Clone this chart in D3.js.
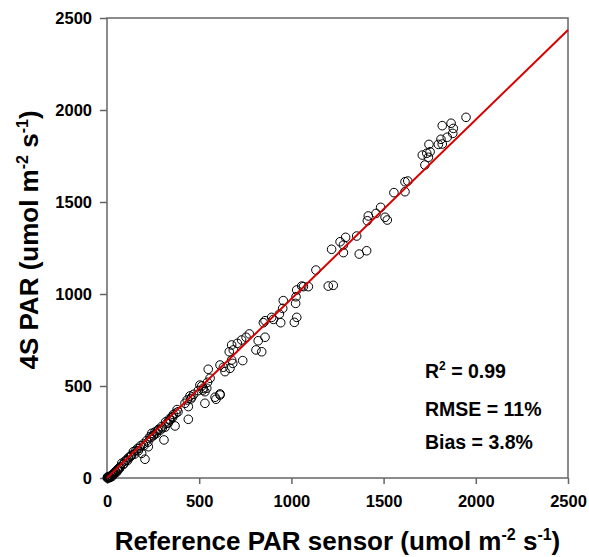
<!DOCTYPE html>
<html>
<head>
<meta charset="utf-8">
<script src="https://cdn.jsdelivr.net/npm/d3@7"></script>
<style>
  body { margin: 0; background: #fff; }
  text { font-family: Arial, "Liberation Sans", sans-serif; font-weight: bold; }
</style>
</head>
<body>
<div id="chart"></div>
<script>
// reference sensor PAR (x) and 4S PAR (y), umol m-2 s-1
var refPar = [
  2, 4, 6, 8, 10, 12, 15, 18, 20, 25, 28, 32, 36, 40, 45, 50, 55, 61, 66, 72, 80, 88, 98, 106, 116, 125, 134, 143,
  157, 165, 175, 188, 197, 206, 215, 224, 233, 243, 251, 260, 269, 280, 290, 297, 309, 315, 324, 333, 342, 352,
  360, 369, 374, 385, 423, 435, 441, 441, 450, 460, 495, 504, 514, 522, 531, 531, 541, 549, 559, 586, 591, 613,
  613, 613, 631, 640, 663, 667, 676, 676, 682, 685, 707, 730, 736, 754, 772, 808, 820, 839, 848, 857, 857, 893,
  902, 935, 942, 953, 956, 1016, 1023, 1025, 1029, 1029, 1056, 1065, 1092, 1133, 1200, 1218, 1227, 1264, 1282,
  1282, 1294, 1354, 1368, 1408, 1412, 1417, 1459, 1484, 1508, 1520, 1556, 1616, 1616, 1631, 1710, 1724, 1734,
  1743, 1746, 1752, 1797, 1811, 1818, 1818, 1845, 1866, 1875, 1878, 1947,
  3, 14, 22, 30, 38, 48, 58, 68, 92, 112, 130, 150, 170, 182, 200, 222, 238, 256, 275, 300, 318, 338, 356, 380,
  455, 470, 520, 545
];
var sensorPar = [
  0, 3, 1, 5, 2, 6, 8, 4, 11, 14, 9, 20, 22, 26, 34, 30, 43, 50, 55, 61, 80, 74, 92, 98, 110, 116, 125, 143,
  150, 160, 161, 134, 185, 102, 203, 170, 225, 243, 230, 250, 243, 265, 261, 280, 207, 276, 297, 300, 315, 333,
  345, 283, 352, 360, 406, 424, 388, 319, 446, 440, 475, 505, 500, 488, 469, 406, 488, 591, 542, 439, 428, 451,
  457, 614, 602, 578, 686, 596, 723, 641, 623, 696, 732, 750, 638, 765, 783, 696, 746, 686, 844, 855, 765, 873,
  862, 891, 844, 922, 964, 846, 949, 985, 1022, 873, 1043, 1040, 1040, 1130, 1043, 1243, 1047, 1284, 1266, 1225,
  1308, 1315, 1217, 1235, 1398, 1424, 1438, 1471, 1417, 1402, 1551, 1610, 1556, 1614, 1755, 1701, 1765, 1743,
  1813, 1773, 1813, 1841, 1815, 1915, 1852, 1928, 1873, 1900, 1960,
  5, 2, 12, 18, 24, 36, 40, 52, 78, 96, 120, 130, 148, 175, 176, 195, 220, 236, 258, 272, 305, 320, 330, 372,
  430, 455, 478, 520
];
var xTicks = [0, 500, 1000, 1500, 2000, 2500];
var yTicks = [0, 500, 1000, 1500, 2000, 2500];
var fitLine = [[0, 0], [2500, 2435]];
var stats = [['R', '2', ' = 0.99'], ['RMSE = 11%', '', ''], ['Bias = 3.8%', '', '']];

(function(d3) {
  'use strict';
  var width = 589, height = 557;
  var mLeft = 107, mRight = 568, mTop = 18, mBottom = 478;
  var axisColor = '#666';

  var svg = d3.select('#chart').append('svg')
    .attr('width', width)
    .attr('height', height);

  var x = d3.scaleLinear().domain([0, 2500]).range([mLeft, mRight]);
  var y = d3.scaleLinear().domain([0, 2500]).range([mBottom, mTop]);

  // frame
  svg.append('rect')
    .attr('x', mLeft).attr('y', mTop)
    .attr('width', mRight - mLeft).attr('height', mBottom - mTop)
    .attr('fill', 'none').attr('stroke', axisColor).attr('stroke-width', 1.5);

  var xAxis = svg.append('g')
    .attr('transform', 'translate(0,' + mBottom + ')')
    .call(d3.axisBottom(x).tickValues(xTicks).tickSize(6).tickPadding(11).tickFormat(d3.format('d')));
  var yAxis = svg.append('g')
    .attr('transform', 'translate(' + mLeft + ',0)')
    .call(d3.axisLeft(y).tickValues(yTicks).tickSize(7).tickPadding(8).tickFormat(d3.format('d')));

  [xAxis, yAxis].forEach(function(a) {
    a.select('.domain').remove();
    a.selectAll('line').attr('stroke', axisColor).attr('stroke-width', 1.5);
    a.selectAll('text')
      .attr('fill', '#000')
      .style('font-size', '16.5px')
      .style('font-family', 'Arial, "Liberation Sans", sans-serif')
      .style('font-weight', 'bold');
  });

  // points
  svg.append('g').selectAll('circle')
    .data(refPar)
    .enter()
    .append('circle')
    .attr('cx', function(d) { return x(d); })
    .attr('cy', function(d, i) { return y(sensorPar[i]); })
    .attr('r', 4.3)
    .attr('fill', 'none')
    .attr('stroke', '#000')
    .attr('stroke-width', 1);

  // fitted line
  svg.append('path')
    .datum(fitLine)
    .attr('d', d3.line().x(function(d) { return x(d[0]); }).y(function(d) { return y(d[1]); }))
    .attr('stroke', '#d60000')
    .attr('stroke-width', 2)
    .attr('fill', 'none');

  // stats text
  var statY = [378, 416, 449];
  stats.forEach(function(s, i) {
    var t = svg.append('text')
      .attr('x', 425).attr('y', statY[i])
      .style('font-size', '19.5px');
    t.append('tspan').text(s[0]);
    if (s[1]) {
      t.append('tspan').attr('dy', -8).style('font-size', '12px').text(s[1]);
      t.append('tspan').attr('dy', 8).text(s[2]);
    }
  });

  // axis titles
  function title(sel, main) {
    sel.append('tspan').text(main + ' (umol m');
    sel.append('tspan').attr('dy', -10).style('font-size', '16px').text('-2');
    sel.append('tspan').attr('dy', 10).text(' s');
    sel.append('tspan').attr('dy', -10).style('font-size', '16px').text('-1');
    sel.append('tspan').attr('dy', 10).text(')');
  }

  var xt = svg.append('text')
    .attr('x', (mLeft + mRight) / 2).attr('y', 550)
    .attr('text-anchor', 'middle')
    .style('font-size', '26px');
  title(xt, 'Reference PAR sensor');

  var yt = svg.append('text')
    .attr('transform', 'translate(38,' + ((mTop + mBottom) / 2 - 8) + ') rotate(-90)')
    .attr('text-anchor', 'middle')
    .style('font-size', '26px');
  title(yt, '4S PAR');
})(window.d3);
</script>
</body>
</html>
